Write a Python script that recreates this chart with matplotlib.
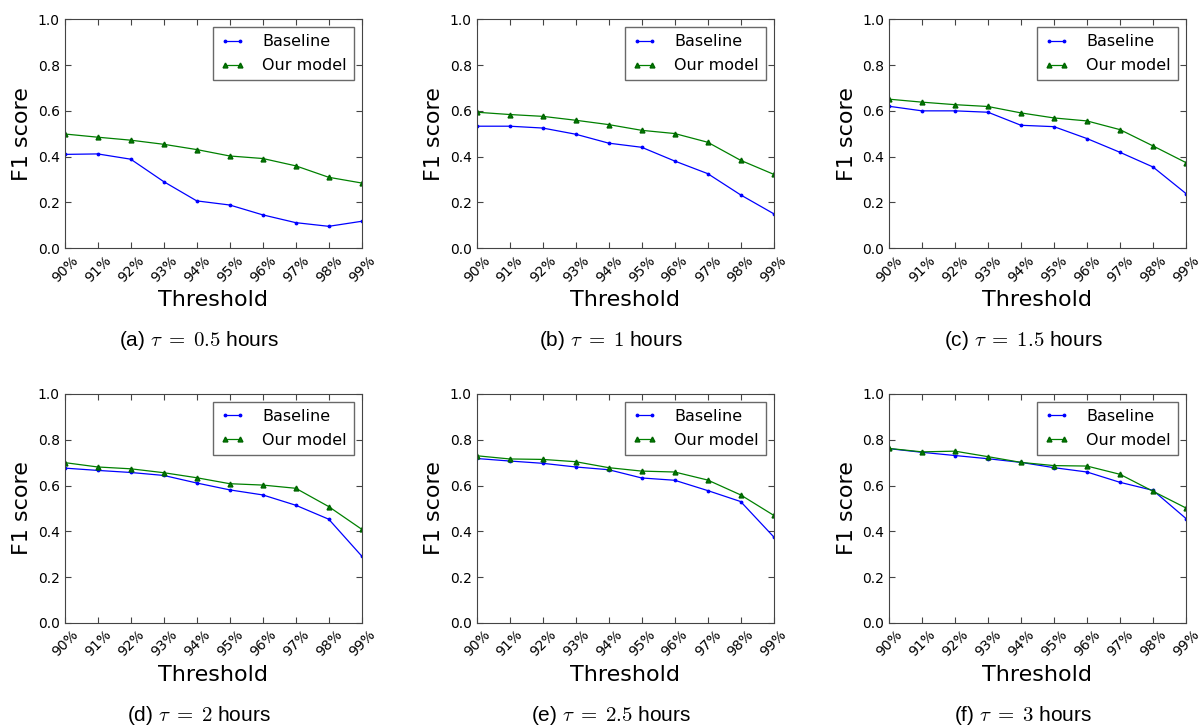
import matplotlib
matplotlib.use("Agg")
import matplotlib.pyplot as plt

plt.rcParams['mathtext.fontset'] = 'cm'

thresholds = ['90%', '91%', '92%', '93%', '94%', '95%', '96%', '97%', '98%', '99%']
captions = ['(a) $\\tau\\;=\\;0.5$ hours', '(b) $\\tau\\;=\\;1$ hours', '(c) $\\tau\\;=\\;1.5$ hours',
            '(d) $\\tau\\;=\\;2$ hours', '(e) $\\tau\\;=\\;2.5$ hours', '(f) $\\tau\\;=\\;3$ hours']

baseline_a = [0.410, 0.412, 0.389, 0.291, 0.207, 0.189, 0.146, 0.112, 0.096, 0.118]
ours_a = [0.499, 0.485, 0.472, 0.454, 0.431, 0.403, 0.392, 0.360, 0.310, 0.285]
baseline_b = [0.533, 0.533, 0.525, 0.498, 0.459, 0.441, 0.381, 0.326, 0.233, 0.151]
ours_b = [0.594, 0.584, 0.576, 0.559, 0.540, 0.515, 0.501, 0.463, 0.384, 0.323]
baseline_c = [0.620, 0.600, 0.600, 0.594, 0.537, 0.531, 0.479, 0.419, 0.355, 0.239]
ours_c = [0.651, 0.638, 0.627, 0.619, 0.591, 0.569, 0.556, 0.518, 0.447, 0.374]
baseline_d = [0.676, 0.666, 0.657, 0.644, 0.611, 0.581, 0.559, 0.514, 0.453, 0.292]
ours_d = [0.700, 0.681, 0.673, 0.656, 0.634, 0.608, 0.602, 0.588, 0.508, 0.409]
baseline_e = [0.718, 0.707, 0.697, 0.681, 0.669, 0.633, 0.623, 0.578, 0.530, 0.376]
ours_e = [0.730, 0.716, 0.714, 0.704, 0.678, 0.663, 0.659, 0.624, 0.559, 0.470]
baseline_f = [0.761, 0.745, 0.731, 0.717, 0.701, 0.678, 0.659, 0.614, 0.579, 0.456]
ours_f = [0.762, 0.747, 0.750, 0.726, 0.701, 0.687, 0.685, 0.649, 0.575, 0.502]

baselines = [baseline_a, baseline_b, baseline_c, baseline_d, baseline_e, baseline_f]
ours = [ours_a, ours_b, ours_c, ours_d, ours_e, ours_f]

fig = plt.figure(figsize=(12.01, 7.25), dpi=100)

lefts = [0.0539, 0.3969, 0.7402]
bottoms = [0.6575, 0.1407]
w, h = 0.2473, 0.316

x = list(range(len(thresholds)))
for i in range(6):
    row, col = divmod(i, 3)
    ax = fig.add_axes([lefts[col], bottoms[row], w, h])
    ax.plot(x, baselines[i], color='b', marker='.', markersize=3.5, linewidth=0.9, label='Baseline')
    ax.plot(x, ours[i], color='g', marker='^', markersize=3.5, markeredgecolor='#006400',
            linewidth=0.9, label='Our model')
    ax.set_xlim(0, 9)
    ax.set_ylim(0, 1.0)
    ax.set_xticks(x)
    ax.set_xticklabels(thresholds, rotation=45, fontsize=10)
    ax.set_yticks([0.0, 0.2, 0.4, 0.6, 0.8, 1.0])
    ax.set_yticklabels(['0.0', '0.2', '0.4', '0.6', '0.8', '1.0'], fontsize=10)
    ax.tick_params(direction='in', top=True, right=True, length=4, color='#444444')
    for s in ax.spines.values():
        s.set_color('#444444')
    ax.set_xlabel('Threshold', fontsize=16)
    ax.set_ylabel('F1 score', fontsize=16)
    leg = ax.legend(loc='upper right', fontsize=11.5, numpoints=2, fancybox=False,
                    borderaxespad=0.5, borderpad=0.45, handlelength=1.5, handletextpad=1.1,
                    labelspacing=0.55)
    leg.get_frame().set_edgecolor('#444444')
    fig.text(lefts[col] + w / 2 - 0.0117, bottoms[row] - 0.127, captions[i], ha='center',
             va='center', fontsize=15, family='Liberation Sans')

fig.savefig('out.png', dpi=100)
